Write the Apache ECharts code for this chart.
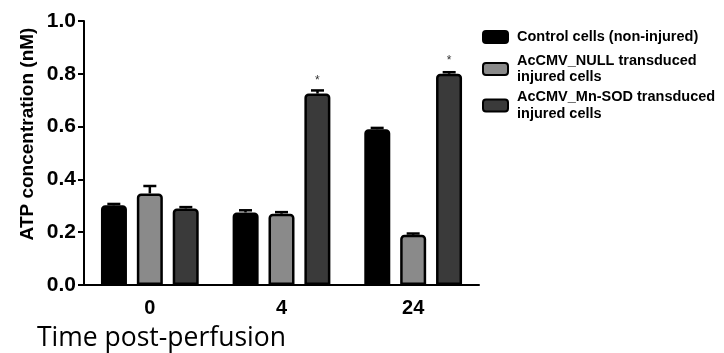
<!DOCTYPE html>
<html>
<head>
<meta charset="utf-8">
<script src="https://cdn.jsdelivr.net/npm/echarts@6/dist/echarts.min.js"></script>
<style>
  html, body { margin: 0; padding: 0; background: #fff; }
  #chart { width: 724px; height: 353px; }
</style>
</head>
<body>
<div id="chart"></div>
<script>
"use strict";
// data
var timePoints = ['0', '4', '24'];
var seriesNames = ['Control cells (non-injured)', 'AcCMV_NULL transduced\ninjured cells', 'AcCMV_Mn-SOD transduced\ninjured cells'];
var controlMean = [0.302, 0.275, 0.590];
var controlErr = [0.005, 0.008, 0.005];
var nullMean = [0.347, 0.270, 0.190];
var nullErr = [0.028, 0.006, 0.005];
var sodMean = [0.290, 0.725, 0.800];
var sodErr = [0.005, 0.012, 0.006];
var sodMark = ['', '*', '*'];

var fills = ['#000000', '#8a8a8a', '#3a3a3a'];
var means = [controlMean, nullMean, sodMean];
var errs = [controlErr, nullErr, sodErr];

var chart = echarts.init(document.getElementById('chart'));

function errBars(s) {
    var d = [];
    for (var i = 0; i < timePoints.length; i++) {
        d.push([i, means[s][i], errs[s][i]]);
    }
    return {
        type: 'custom',
        z: 5,
        silent: true,
        data: d,
        renderItem: function (params, api) {
            var off = (s - 1) * 36;
            var p0 = api.coord([api.value(0), api.value(1)]);
            var p1 = api.coord([api.value(0), api.value(1) + api.value(2)]);
            var x = p0[0] + off;
            return {
                type: 'group',
                children: [{
                    type: 'line',
                    shape: {x1: x, y1: p0[1], x2: x, y2: p1[1]},
                    style: {stroke: '#000', lineWidth: 2.5}
                }, {
                    type: 'line',
                    shape: {x1: x - 6.5, y1: p1[1], x2: x + 6.5, y2: p1[1]},
                    style: {stroke: '#000', lineWidth: 2.5}
                }]
            };
        }
    };
}

var series = [];
for (var s = 0; s < 3; s++) {
    series.push({
        name: seriesNames[s],
        type: 'bar',
        barWidth: 26,
        barGap: '38%',
        data: means[s],
        itemStyle: {color: fills[s], borderColor: '#000', borderWidth: 2.5, borderRadius: [3, 3, 0, 0]},
        label: s === 2 ? {
            show: true,
            position: 'top',
            distance: 7,
            color: '#333',
            fontSize: 12,
            fontFamily: 'Liberation Sans',
            formatter: function (p) { return sodMark[p.dataIndex]; }
        } : {show: false}
    });
}
for (var k = 0; k < 3; k++) series.push(errBars(k));

var legendFont = {
    fontFamily: 'Liberation Sans',
    fontWeight: 'bold',
    fontSize: 14.5,
    color: '#000'
};

var option = {
    animation: false,
    backgroundColor: '#fff',
    grid: {left: 84, top: 21, right: 245, bottom: 68},
    legend: {
        orient: 'vertical',
        left: 482,
        top: 25,
        padding: 0,
        itemWidth: 25,
        itemHeight: 12,
        itemGap: 3.5,
        icon: 'roundRect',
        data: seriesNames,
        formatter: function (name) {
            return name === seriesNames[0] ? '{a|' + name + '}' : name;
        },
        textStyle: Object.assign({
            lineHeight: 16.5,
            padding: [0, 0, 0, 4],
            rich: {a: Object.assign({lineHeight: 24}, legendFont)}
        }, legendFont),
        itemStyle: {borderColor: '#000', borderWidth: 2}
    },
    xAxis: {
        type: 'category',
        data: timePoints,
        axisLine: {lineStyle: {color: '#000', width: 2}},
        axisTick: {alignWithLabel: true, length: 6, lineStyle: {color: '#000', width: 2}},
        axisLabel: {
            margin: 13,
            color: '#000',
            fontFamily: 'Liberation Sans',
            fontWeight: 'bold',
            fontSize: 20
        }
    },
    yAxis: {
        type: 'value',
        min: 0,
        max: 1,
        interval: 0.2,
        splitLine: {show: false},
        axisLine: {show: true, lineStyle: {color: '#000', width: 2}},
        axisTick: {show: true, length: 6, lineStyle: {color: '#000', width: 2}},
        axisLabel: {
            margin: 8,
            color: '#000',
            fontFamily: 'Liberation Sans',
            fontWeight: 'bold',
            fontSize: 21,
            formatter: function (v) { return v.toFixed(1); }
        }
    },
    graphic: [{
        type: 'text',
        x: 28,
        y: 134,
        rotation: Math.PI / 2,
        style: {
            text: 'ATP concentration (nM)',
            fill: '#000',
            font: 'bold 19px "Liberation Sans"',
            align: 'center',
            verticalAlign: 'middle'
        }
    }, {
        type: 'text',
        x: 37,
        y: 338,
        style: {
            text: 'Time post-perfusion',
            fill: '#000',
            font: '26.5px "Open Sans"',
            verticalAlign: 'middle'
        }
    }],
    series: series
};
chart.setOption(option);
</script>
</body>
</html>
